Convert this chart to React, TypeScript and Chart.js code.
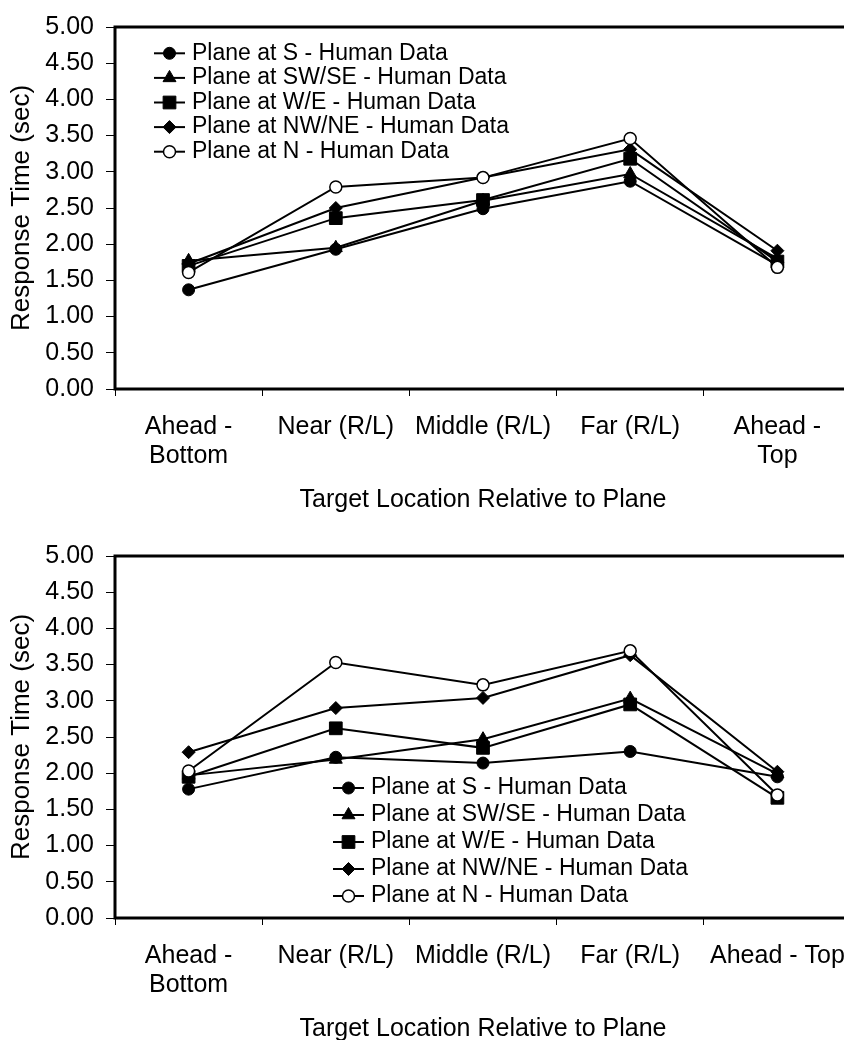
import React, { useEffect, useRef } from 'react';
import { Chart, registerables } from 'chart.js';
import { drawPoint } from 'chart.js/helpers';

Chart.register(...registerables);

// ---------- data ----------
const categoriesTop: (string | string[])[] = [['Ahead -', 'Bottom'], 'Near (R/L)', 'Middle (R/L)', 'Far (R/L)', ['Ahead -', 'Top']];
const categoriesBottom: (string | string[])[] = [['Ahead -', 'Bottom'], 'Near (R/L)', 'Middle (R/L)', 'Far (R/L)', 'Ahead - Top'];

const seriesNames = [
  'Plane at S - Human Data',
  'Plane at SW/SE - Human Data',
  'Plane at W/E - Human Data',
  'Plane at NW/NE - Human Data',
  'Plane at N - Human Data',
];

// top chart
const topS = [1.37, 1.93, 2.49, 2.87, 1.71];
const topSWSE = [1.77, 1.95, 2.60, 2.97, 1.80];
const topWE = [1.70, 2.36, 2.61, 3.18, 1.76];
const topNWNE = [1.73, 2.50, 2.92, 3.31, 1.91];
const topN = [1.61, 2.79, 2.92, 3.46, 1.68];

// bottom chart
const botS = [1.78, 2.22, 2.14, 2.30, 1.95];
const botSWSE = [1.97, 2.19, 2.47, 3.03, 1.99];
const botWE = [1.95, 2.62, 2.35, 2.95, 1.66];
const botNWNE = [2.29, 2.90, 3.04, 3.63, 2.02];
const botN = [2.03, 3.53, 3.22, 3.69, 1.70];

const yTickLabels = ['0.00', '0.50', '1.00', '1.50', '2.00', '2.50', '3.00', '3.50', '4.00', '4.50', '5.00'];
const xTitle = 'Target Location Relative to Plane';
const yTitle = 'Response Time (sec)';

// ---------- styles ----------
const FONT = '"Liberation Sans", Arial, Helvetica, sans-serif';
const pointStyles = ['circle', 'triangle', 'rect', 'rectRot', 'circle'];
const pointRadii = [6, 7.5, 9, 6.5, 6];
const pointFills = ['#000', '#000', '#000', '#000', '#fff'];
const pointBorders = [1, 1, 1, 1, 1.5];

const framePlugin = {
  id: 'frame',
  beforeDatasetsDraw(chart: any) {
    const { ctx, chartArea } = chart;
    ctx.save();
    ctx.strokeStyle = '#000';
    ctx.lineWidth = 3;
    ctx.strokeRect(chartArea.left, chartArea.top, chartArea.right - chartArea.left, chartArea.bottom - chartArea.top);
    ctx.restore();
  },
};

const legendPlugin = {
  id: 'insideLegend',
  afterDatasetsDraw(chart: any, _args: any, opts: any) {
    const ctx = chart.ctx;
    ctx.save();
    chart.data.datasets.forEach((ds: any, i: number) => {
      const y = opts.y + i * opts.rowH;
      ctx.strokeStyle = '#000';
      ctx.lineWidth = 2;
      ctx.beginPath();
      ctx.moveTo(opts.x, y);
      ctx.lineTo(opts.x + opts.lineLen, y);
      ctx.stroke();
      ctx.fillStyle = ds.pointBackgroundColor;
      ctx.strokeStyle = '#000';
      ctx.lineWidth = ds.pointBorderWidth;
      drawPoint(ctx, { pointStyle: ds.pointStyle, radius: ds.pointRadius, rotation: 0, borderWidth: ds.pointBorderWidth } as any, opts.x + opts.lineLen / 2, y);
      ctx.fillStyle = '#000';
      ctx.font = `${opts.fontSize}px ${FONT}`;
      ctx.textBaseline = 'middle';
      ctx.textAlign = 'left';
      ctx.fillText(ds.label, opts.x + opts.lineLen + opts.gap, y);
    });
    ctx.restore();
  },
};

function makeConfig(labels: (string | string[])[], series: number[][], legend: { x: number; y: number; rowH: number }) {
  return {
    type: 'line' as const,
    data: {
      labels,
      datasets: series.map((vals, i) => ({
        label: seriesNames[i],
        data: vals,
        borderColor: '#000',
        borderWidth: 2,
        pointStyle: pointStyles[i],
        pointRadius: pointRadii[i],
        pointBackgroundColor: pointFills[i],
        pointBorderColor: '#000',
        pointBorderWidth: pointBorders[i],
        tension: 0,
        fill: false,
        order: series.length - i,
      })),
    },
    options: {
      responsive: false,
      animation: false as const,
      devicePixelRatio: 1,
      layout: { padding: { left: 0, top: 23, right: 19, bottom: 0 } },
      plugins: {
        legend: { display: false },
        tooltip: { enabled: false },
        insideLegend: { x: legend.x, y: legend.y, rowH: legend.rowH, lineLen: 31, gap: 7, fontSize: 23 },
      },
      scales: {
        x: {
          type: 'category' as const,
          offset: true,
          grid: { offset: true, drawOnChartArea: false, drawTicks: true, tickLength: 7, color: '#000', lineWidth: 1 },
          border: { display: false },
          ticks: { color: '#000', font: { family: FONT, size: 25, lineHeight: 1.16 }, padding: 16.5, maxRotation: 0, autoSkip: false },
          title: { display: true, text: xTitle, color: '#000', font: { family: FONT, size: 25, lineHeight: 1.2 }, padding: { top: 0, bottom: 14 } },
          afterFit: (s: any) => { s.height = 140; },
        },
        y: {
          min: 0,
          max: 5,
          ticks: {
            stepSize: 0.5,
            color: '#000',
            font: { family: FONT, size: 25 },
            padding: 12,
            callback: (_v: any, idx: number) => yTickLabels[idx],
          },
          grid: { drawOnChartArea: false, drawTicks: true, tickLength: 9, color: '#000', lineWidth: 1 },
          border: { display: false },
          title: { display: true, text: yTitle, color: '#000', font: { family: FONT, size: 26, lineHeight: 1 }, padding: { top: 9, bottom: 0 } },
          afterFit: (s: any) => { s.width = 115; },
        },
      },
    },
    plugins: [framePlugin, legendPlugin],
  };
}

function LineChart({ labels, series, legend, top }: { labels: (string | string[])[]; series: number[][]; legend: { x: number; y: number; rowH: number }; top: number }) {
  const ref = useRef<HTMLCanvasElement>(null);
  useEffect(() => {
    const chart = new Chart(ref.current as HTMLCanvasElement, makeConfig(labels, series, legend) as any);
    return () => chart.destroy();
  }, []);
  return (
    <canvas
      ref={ref}
      width={870}
      height={529}
      style={{ position: 'absolute', left: 0, top, width: 870, height: 529 }}
    />
  );
}

export default function App() {
  return (
    <div style={{ position: 'fixed', left: 0, top: 0, width: 844, height: 1040, overflow: 'hidden', background: '#fff' }}>
      <LineChart labels={categoriesTop} series={[topS, topSWSE, topWE, topNWNE, topN]} legend={{ x: 154, y: 53.3, rowH: 24.6 }} top={0} />
      <LineChart labels={categoriesBottom} series={[botS, botSWSE, botWE, botNWNE, botN]} legend={{ x: 333, y: 259, rowH: 27 }} top={529} />
    </div>
  );
}
